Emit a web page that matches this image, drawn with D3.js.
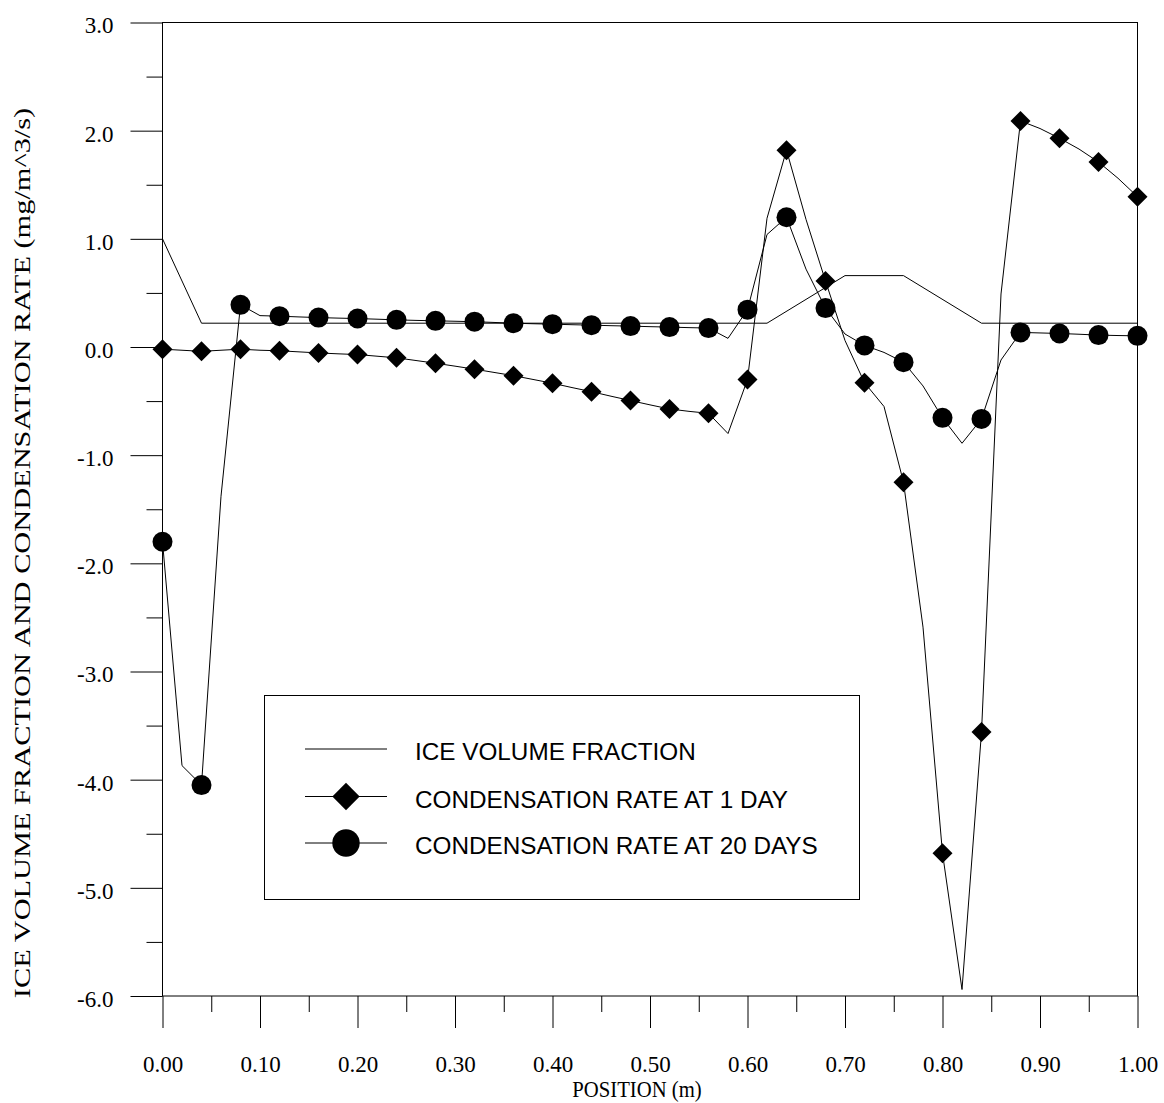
<!DOCTYPE html>
<html>
<head>
<meta charset="utf-8">
<script src="https://cdn.jsdelivr.net/npm/d3@7"></script>
<style>
  html, body { margin: 0; padding: 0; background: #fff; }
  svg { display: block; }
  .tick text { font-family: "Liberation Serif", "Times New Roman", serif; font-size: 23px; fill: #000; }
  .tick line { stroke: #000; stroke-width: 1; }
</style>
</head>
<body>
<svg id="chart" width="1164" height="1103"></svg>
<script>
// Positions along the specimen (m), computed on a 0.02 m grid
const positions = [
  0.00, 0.02, 0.04, 0.06, 0.08, 0.10, 0.12, 0.14, 0.16, 0.18,
  0.20, 0.22, 0.24, 0.26, 0.28, 0.30, 0.32, 0.34, 0.36, 0.38,
  0.40, 0.42, 0.44, 0.46, 0.48, 0.50, 0.52, 0.54, 0.56, 0.58,
  0.60, 0.62, 0.64, 0.66, 0.68, 0.70, 0.72, 0.74, 0.76, 0.78,
  0.80, 0.82, 0.84, 0.86, 0.88, 0.90, 0.92, 0.94, 0.96, 0.98, 1.00
];

// Condensation rate after 1 day (mg/m^3/s)
const rateDay1 = [
  -0.02, -0.03, -0.04, -0.03, -0.02, -0.03, -0.035, -0.045, -0.055, -0.063,
  -0.07, -0.085, -0.10, -0.125, -0.15, -0.177, -0.205, -0.235, -0.265, -0.30,
  -0.335, -0.375, -0.413, -0.455, -0.495, -0.535, -0.573, -0.595, -0.613, -0.80,
  -0.30, 1.19, 1.82, 1.18, 0.61, 0.06, -0.33, -0.55, -1.25, -2.59,
  -4.68, -5.94, -3.56, 0.49, 2.09, 2.02, 1.93, 1.83, 1.71, 1.56, 1.39
];

// Condensation rate after 20 days (mg/m^3/s)
const rateDay20 = [
  -1.80, -3.87, -4.05, -1.38, 0.39, 0.29, 0.285, 0.278, 0.272, 0.267,
  0.263, 0.257, 0.251, 0.246, 0.242, 0.238, 0.234, 0.227, 0.220, 0.215,
  0.211, 0.206, 0.202, 0.197, 0.193, 0.188, 0.184, 0.179, 0.175, 0.08,
  0.345, 1.04, 1.20, 0.72, 0.36, 0.12, 0.015, -0.05, -0.14, -0.36,
  -0.655, -0.89, -0.665, -0.12, 0.135, 0.13, 0.125, 0.118, 0.11, 0.106, 0.103
];

// Ice volume fraction break points
const icePositions = [0.00, 0.04, 0.62, 0.70, 0.76, 0.84, 1.00];
const iceFraction  = [1.00, 0.22, 0.22, 0.66, 0.66, 0.22, 0.22];

// Axis ticks
const xMajorTicks = [0.0, 0.1, 0.2, 0.3, 0.4, 0.5, 0.6, 0.7, 0.8, 0.9, 1.0];
const xMinorTicks = [0.05, 0.15, 0.25, 0.35, 0.45, 0.55, 0.65, 0.75, 0.85, 0.95];
const yMajorTicks = [-6, -5, -4, -3, -2, -1, 0, 1, 2, 3];
const yMinorTicks = [-5.5, -4.5, -3.5, -2.5, -1.5, -0.5, 0.5, 1.5, 2.5];

const legendLabels = [
  "ICE VOLUME FRACTION",
  "CONDENSATION RATE AT 1 DAY",
  "CONDENSATION RATE AT 20 DAYS"
];

const svg = d3.select("#chart");
const plotLeft = 162.5, plotRight = 1137.5, plotTop = 22.5, plotBottom = 996;

const x = d3.scaleLinear().domain([0, 1]).range([plotLeft, plotRight]);
const y = d3.scaleLinear().domain([-6, 3]).range([plotBottom, plotTop]);

const fmt1 = v => d3.format(".1f")(v).replace("\u2212", "-");
const fmt2 = v => d3.format(".2f")(v);

// Minor ticks
svg.append("g").attr("transform", `translate(${plotLeft},0)`)
  .call(d3.axisLeft(y).tickValues(yMinorTicks).tickSize(16).tickFormat(""))
  .call(g => g.select(".domain").remove());
svg.append("g").attr("transform", `translate(0,${plotBottom})`)
  .call(d3.axisBottom(x).tickValues(xMinorTicks).tickSize(16).tickFormat(""))
  .call(g => g.select(".domain").remove());

// Major ticks with labels
svg.append("g").attr("transform", `translate(${plotLeft},0)`)
  .call(d3.axisLeft(y).tickValues(yMajorTicks).tickSize(32).tickPadding(17).tickFormat(fmt1))
  .call(g => g.select(".domain").remove())
  .call(g => g.selectAll(".tick text").attr("dy", "0.45em"));
svg.append("g").attr("transform", `translate(0,${plotBottom})`)
  .call(d3.axisBottom(x).tickValues(xMajorTicks).tickSize(32).tickPadding(28).tickFormat(fmt2))
  .call(g => g.select(".domain").remove());

// Plot frame
svg.append("rect")
  .attr("x", plotLeft).attr("y", plotTop)
  .attr("width", plotRight - plotLeft).attr("height", plotBottom - plotTop)
  .attr("fill", "none").attr("stroke", "#000").attr("stroke-width", 1);

// Axis titles
svg.append("text")
  .attr("transform", "translate(637,1097) scale(0.9,1)")
  .attr("text-anchor", "middle")
  .style("font-family", "'Liberation Serif', 'Times New Roman', serif")
  .style("font-size", "23px")
  .text("POSITION (m)");

// Vertical title, stretched along its length
svg.append("text")
  .attr("transform", "translate(30,553) rotate(-90) scale(1.32,1)")
  .attr("text-anchor", "middle")
  .style("font-family", "'Liberation Serif', 'Times New Roman', serif")
  .style("font-size", "23px")
  .text("ICE VOLUME FRACTION AND CONDENSATION RATE (mg/m^3/s)");

// Series lines
const line = d3.line().x(d => x(d[0])).y(d => y(d[1]));
const pairs = (xs, ys) => xs.map((v, i) => [v, ys[i]]);

const plot = svg.append("g");
plot.append("path").datum(pairs(icePositions, iceFraction))
  .attr("d", line).attr("fill", "none").attr("stroke", "#000").attr("stroke-width", 1);
plot.append("path").datum(pairs(positions, rateDay1))
  .attr("d", line).attr("fill", "none").attr("stroke", "#000").attr("stroke-width", 1);
plot.append("path").datum(pairs(positions, rateDay20))
  .attr("d", line).attr("fill", "none").attr("stroke", "#000").attr("stroke-width", 1);

// Markers on every other grid point
const diamond = d3.symbol().type(d3.symbolSquare).size(200);
const dot = d3.symbol().type(d3.symbolCircle).size(Math.PI * 100);

const marked = (xs, ys) => pairs(xs, ys).filter((d, i) => i % 2 === 0);

plot.selectAll(".m1").data(marked(positions, rateDay1)).join("path")
  .attr("class", "m1")
  .attr("d", diamond)
  .attr("transform", d => `translate(${x(d[0])},${y(d[1])}) rotate(45)`)
  .attr("fill", "#000");

plot.selectAll(".m20").data(marked(positions, rateDay20)).join("path")
  .attr("class", "m20")
  .attr("d", dot)
  .attr("transform", d => `translate(${x(d[0])},${y(d[1])})`)
  .attr("fill", "#000");

// Legend
const legend = svg.append("g");
legend.append("rect")
  .attr("x", 264.5).attr("y", 695.5).attr("width", 595).attr("height", 204)
  .attr("fill", "#fff").attr("stroke", "#000").attr("stroke-width", 1);

const rowY = [749, 796.5, 843];
const legendMarkers = [
  null,
  { sym: d3.symbol().type(d3.symbolSquare).size(373), rot: 45 },
  { sym: d3.symbol().type(d3.symbolCircle).size(Math.PI * 13.7 * 13.7), rot: 0 }
];
legendLabels.forEach((label, i) => {
  const row = legend.append("g").attr("transform", `translate(0,${rowY[i]})`);
  row.append("line").attr("x1", 305).attr("x2", 387).attr("y1", 0).attr("y2", 0)
    .attr("stroke", "#000").attr("stroke-width", 1);
  if (legendMarkers[i]) {
    row.append("path").attr("d", legendMarkers[i].sym)
      .attr("transform", `translate(346,0) rotate(${legendMarkers[i].rot})`)
      .attr("fill", "#000");
  }
  row.append("text")
    .attr("x", 415).attr("y", 11)
    .style("font-family", "'Liberation Sans', Arial, sans-serif")
    .style("font-size", "24.3px")
    .text(label);
});
</script>
</body>
</html>
